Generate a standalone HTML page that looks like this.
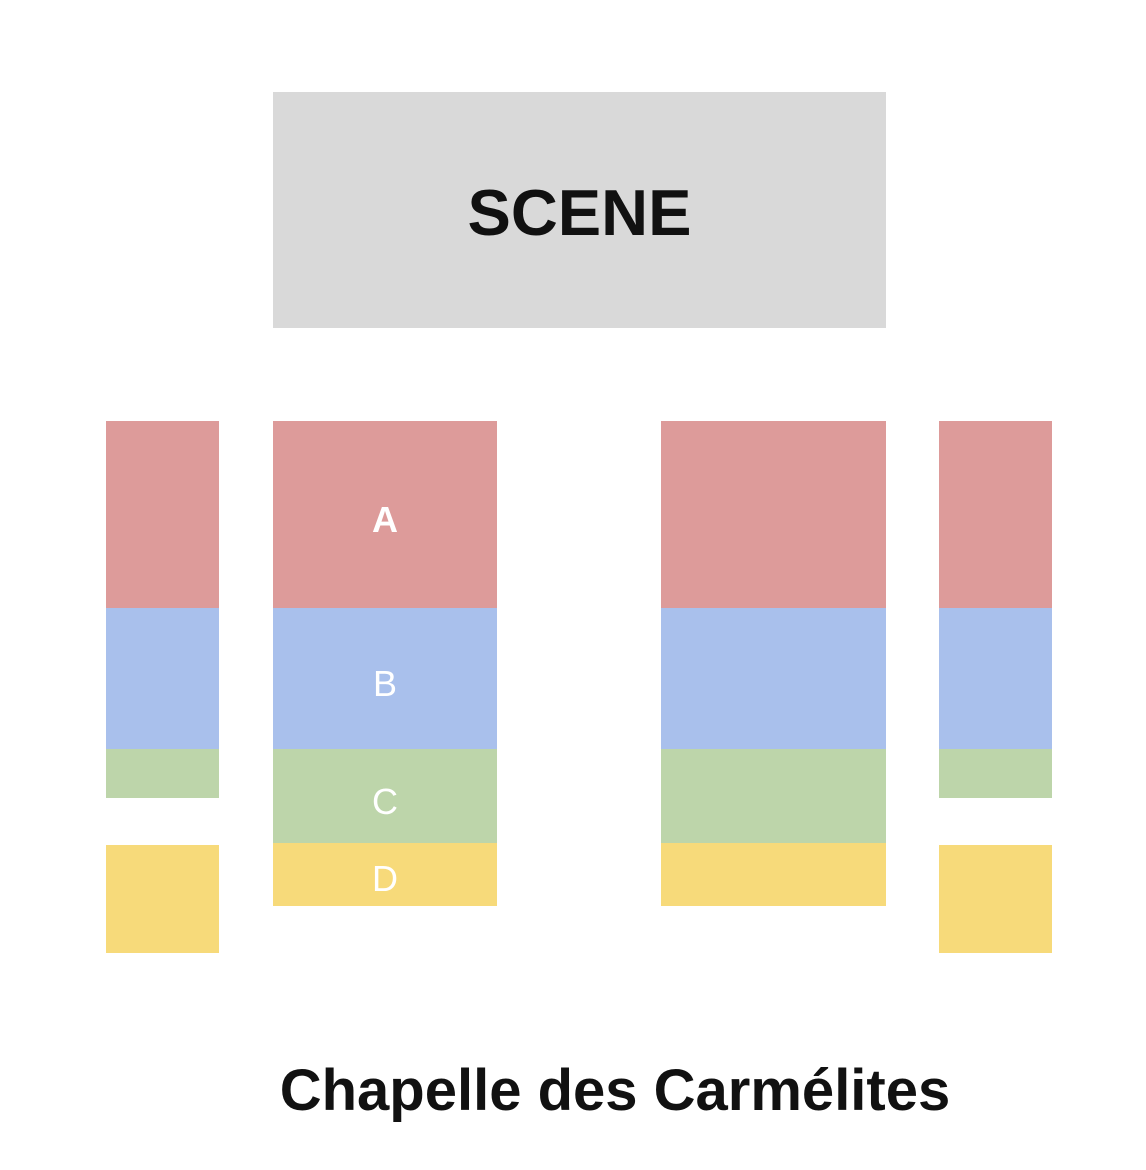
<!DOCTYPE html>
<html><head><meta charset="utf-8"><style>
body{margin:0;width:1146px;height:1170px;background:#fff;position:relative;overflow:hidden;font-family:"Liberation Sans",sans-serif}
div{position:absolute}
.r{background:#dd9b9a}.b{background:#a9c0ec}.g{background:#bdd5aa}.y{background:#f7da7a}
.l{color:#fff;font-size:36px;text-align:center;width:224px;left:273px}
</style></head><body>
<div style="left:273px;top:92px;width:613px;height:236px;background:#d9d9d9"></div>
<div style="left:273px;top:173px;width:613px;text-align:center;font-weight:bold;font-size:65px;color:#111;line-height:80px">SCENE</div>

<div class="r" style="left:106px;top:421px;width:113px;height:187px"></div>
<div class="b" style="left:106px;top:608px;width:113px;height:141px"></div>
<div class="g" style="left:106px;top:749px;width:113px;height:49px"></div>
<div class="y" style="left:106px;top:845px;width:113px;height:108px"></div>

<div class="r" style="left:273px;top:421px;width:224px;height:187px"></div>
<div class="b" style="left:273px;top:608px;width:224px;height:141px"></div>
<div class="g" style="left:273px;top:749px;width:224px;height:94px"></div>
<div class="y" style="left:273px;top:843px;width:224px;height:63px"></div>

<div class="r" style="left:661px;top:421px;width:225px;height:187px"></div>
<div class="b" style="left:661px;top:608px;width:225px;height:141px"></div>
<div class="g" style="left:661px;top:749px;width:225px;height:94px"></div>
<div class="y" style="left:661px;top:843px;width:225px;height:63px"></div>

<div class="r" style="left:939px;top:421px;width:113px;height:187px"></div>
<div class="b" style="left:939px;top:608px;width:113px;height:141px"></div>
<div class="g" style="left:939px;top:749px;width:113px;height:49px"></div>
<div class="y" style="left:939px;top:845px;width:113px;height:108px"></div>

<div class="l" style="top:499px;font-weight:bold">A</div>
<div class="l" style="top:663px">B</div>
<div class="l" style="top:781px">C</div>
<div class="l" style="top:858px">D</div>

<div style="left:215px;top:1058px;width:800px;text-align:center;font-weight:bold;font-size:58px;color:#111;line-height:66px">Chapelle des Carmélites</div>
</body></html>
